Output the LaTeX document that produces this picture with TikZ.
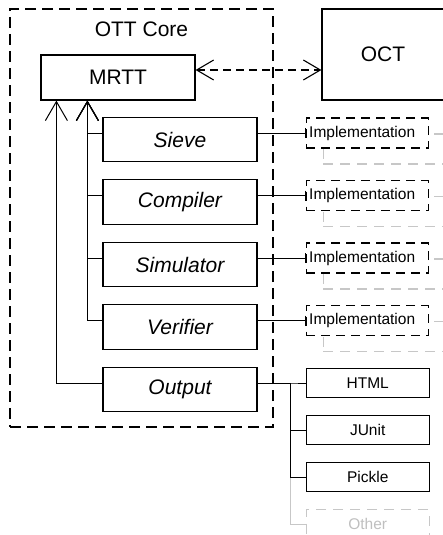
\documentclass[tikz,border=0pt]{standalone}
\usepackage{fontspec}
\setmainfont{Liberation Sans}
\usepackage{tikz}
\usetikzlibrary{arrows.meta,positioning}

\begin{document}
\begin{tikzpicture}[
    x=1pt, y=1pt,
    node distance=16.8pt,
    corebox/.style={rectangle, draw, line width=1.2pt, dash pattern=on 11pt off 6pt, minimum width=263pt, minimum height=418pt},
    unit/.style={rectangle, draw, line width=1.2pt, align=center, minimum width=154pt, minimum height=45pt, font=\fontsize{21}{25}\selectfont},
    module/.style={unit, minimum height=44.5pt, font=\fontsize{21}{25}\selectfont\itshape},
    impl/.style={rectangle, draw, fill=white, line width=1.2pt, dash pattern=on 9pt off 6pt, inner sep=3pt, text width=116pt, align=left, minimum height=30pt, font=\fontsize{15.5}{18}\selectfont},
    shadow/.style={rectangle, draw=black!22, line width=1.2pt, dash pattern=on 10pt off 7pt, minimum width=122pt, minimum height=30pt},
    target/.style={rectangle, draw, line width=1.2pt, minimum width=123pt, minimum height=29pt, font=\fontsize{15.5}{18}\selectfont},
    ghost/.style={target, draw=black!22, text=black!25, dash pattern=on 10pt off 7pt},
    uses/.style={-{Straight Barb[length=19pt, width=22pt]}, line width=1pt},
    link/.style={line width=1pt},
    both/.style={{Straight Barb[length=17pt, width=20pt]}-{Straight Barb[length=17pt, width=20pt]}, line width=1.1pt, dash pattern=on 8pt off 5pt}
]
    \useasboundingbox (0,0) rectangle (442,-535);

    \node [corebox] (core) at (141.5,-218) {};
    \node [font=\fontsize{21}{25}\selectfont] (corename) at ([yshift=-21pt]core.north) {OTT Core};

    \node [unit] (mrtt) at (118,-77.5) {MRTT};
    \node [unit, minimum width=122pt, minimum height=91pt] (oct) at (383,-54.5) {OCT};
    \draw [both] ([yshift=7.5pt]mrtt.east) -- ([yshift=7.5pt]mrtt.east -| oct.west);

    \node [module] (sieve) at (180,-139.5) {Sieve};
    \node [module, below=of sieve] (compiler) {Compiler};
    \node [module, below=of compiler] (simulator) {Simulator};
    \node [module, below=of simulator] (verifier) {Verifier};
    \node [module, below=of verifier] (output) {Output};

    % implementations, with a grey card behind each
    \foreach \m in {sieve,compiler,simulator,verifier} {
        \node [shadow, right=65pt of \m.east, yshift=-9.5pt] (\m-shadow) {};
        \node [impl, right=48pt of \m.east, yshift=6.5pt] (\m-impl) {Implementation};
        \draw [link, -{Bar[width=10pt]}] ([yshift=6.5pt]\m.east) -- (\m-impl.west);
        \draw [uses] ([yshift=6.5pt]\m.west) -| ([xshift=47pt]mrtt.south west);
    }
    \draw [uses] ([yshift=6.5pt]output.west) -| ([xshift=16pt]mrtt.south west);

    % output formats
    \node [target, right=48pt of output.east, yshift=6.5pt] (html) {HTML};
    \node [target, below=of html] (junit) {JUnit};
    \node [target, below=of junit] (pickle) {Pickle};
    \node [ghost, below=of pickle] (other) {Other};

    \draw [link, draw=black!22] ([yshift=6.5pt]output.east) -- ++(33pt,0) |- (other.west);
    \foreach \t in {html,junit,pickle}
        \draw [link] ([yshift=6.5pt]output.east) -- ++(33pt,0) |- (\t.west);
\end{tikzpicture}
\end{document}
